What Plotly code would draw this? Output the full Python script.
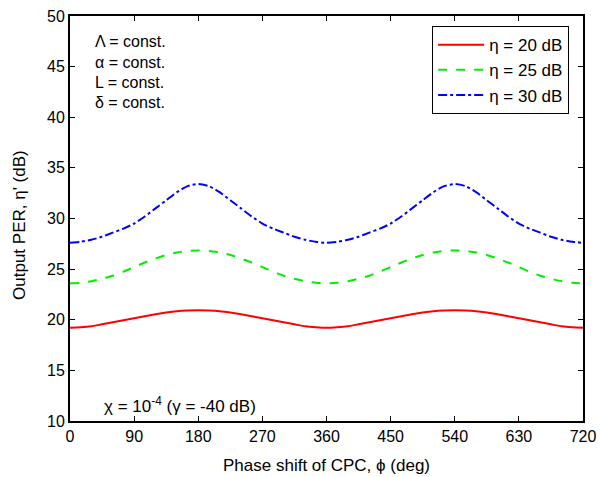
import plotly.graph_objects as go

phi = list(range(0, 721, 15))

half_red = [19.2, 19.25, 19.35, 19.55, 19.75, 19.95, 20.15, 20.35, 20.55, 20.72, 20.85, 20.92, 20.95]
half_green = [23.6, 23.65, 23.8, 24.05, 24.35, 24.75, 25.2, 25.65, 26.05, 26.4, 26.65, 26.8, 26.85]
half_blue = [27.6, 27.7, 27.9, 28.2, 28.6, 29.0, 29.5, 30.2, 31.0, 31.8, 32.6, 33.2, 33.4]

def period(h):
    one = h + h[-2::-1]          # 0..360
    return one + one[1:]         # 0..720

eta_20 = period(half_red)
eta_25 = period(half_green)
eta_30 = period(half_blue)

names = ["η = 20 dB", "η = 25 dB", "η = 30 dB"]
x_ticks = [0, 90, 180, 270, 360, 450, 540, 630, 720]
y_ticks = [10, 15, 20, 25, 30, 35, 40, 45, 50]

FONT = "Liberation Sans, Arial, sans-serif"

fig = go.Figure()
fig.add_trace(go.Scatter(x=phi, y=eta_20, mode="lines", name=names[0],
                         line=dict(color="#ff0000", width=2, dash="solid", shape="spline", smoothing=0.6)))
fig.add_trace(go.Scatter(x=phi, y=eta_25, mode="lines", name=names[1],
                         line=dict(color="#00ee00", width=2, dash="dash", shape="spline", smoothing=0.6)))
fig.add_trace(go.Scatter(x=phi, y=eta_30, mode="lines", name=names[2],
                         line=dict(color="#0000ff", width=2, dash="dashdot", shape="spline", smoothing=0.6)))

axis_common = dict(showline=True, linecolor="black", linewidth=2, mirror="ticks",
                   ticks="inside", ticklen=5, tickwidth=1, tickcolor="black",
                   showgrid=False, zeroline=False, automargin=False,
                   tickfont=dict(family=FONT, size=16, color="black"))

fig.update_xaxes(range=[0, 720], tickvals=x_ticks,
                 title=dict(text="Phase shift of CPC, ϕ (deg)", font=dict(family=FONT, size=17, color="black"), standoff=15),
                 **axis_common)
fig.update_yaxes(range=[10, 50], tickvals=y_ticks, **axis_common)

# y-axis title placed as rotated annotation
fig.add_annotation(x=-0.0975, y=0.484, xref="paper", yref="paper",
                   text="Output PER, η' (dB)", showarrow=False, textangle=-90,
                   xanchor="center", yanchor="middle",
                   font=dict(family=FONT, size=17, color="black"))

for i, t in enumerate(["Λ = const.", "α = const.", "L = const.", "δ = const."]):
    fig.add_annotation(x=0.045, y=0.936 - i * 0.05, xref="paper", yref="paper",
                       text=t, showarrow=False, xanchor="left", yanchor="middle",
                       font=dict(family=FONT, size=16, color="black"))

fig.add_annotation(x=0.062, y=0.04, xref="paper", yref="paper",
                   text="χ = 10<sup>-4</sup> (γ = -40 dB)", showarrow=False,
                   xanchor="left", yanchor="middle",
                   font=dict(family=FONT, size=17, color="black"))

fig.update_layout(
    width=600, height=477,
    margin=dict(l=70, r=17, t=16, b=56, autoexpand=False),
    paper_bgcolor="white", plot_bgcolor="white",
    font=dict(family=FONT, size=16, color="black"),
    legend=dict(x=0.973, y=0.975, xanchor="right", yanchor="top",
                bordercolor="black", borderwidth=1, bgcolor="white",
                font=dict(family=FONT, size=17, color="black"),
                itemwidth=46, tracegroupgap=0),
    showlegend=True,
)

fig.write_html("out.html")
